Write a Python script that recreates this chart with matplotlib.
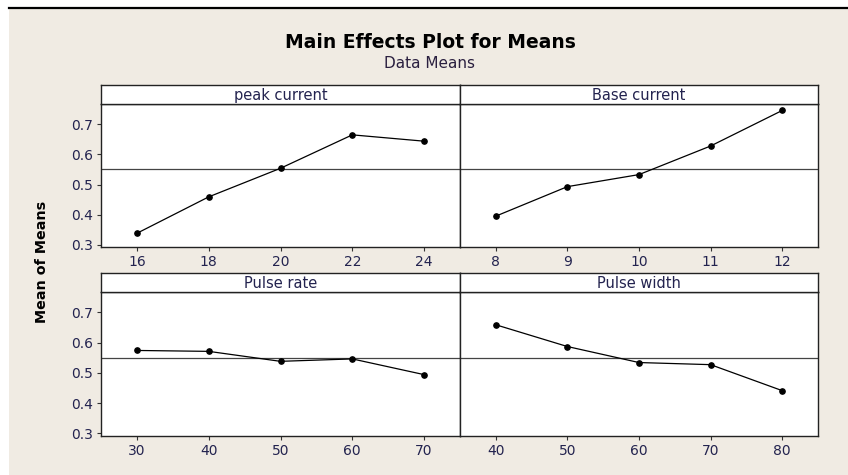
import matplotlib
matplotlib.use("Agg")
import matplotlib.pyplot as plt
from matplotlib.patches import Rectangle
from matplotlib.lines import Line2D

# factor levels and the mean of means at each level
peak_current = [16, 18, 20, 22, 24]
peak_means = [0.338, 0.459, 0.554, 0.665, 0.644]

base_current = [8, 9, 10, 11, 12]
base_means = [0.395, 0.493, 0.533, 0.628, 0.746]

pulse_rate = [30, 40, 50, 60, 70]
rate_means = [0.574, 0.571, 0.538, 0.546, 0.494]

pulse_width = [40, 50, 60, 70, 80]
width_means = [0.659, 0.587, 0.534, 0.527, 0.441]

grand_mean = 0.55
y_ticks = [0.3, 0.4, 0.5, 0.6, 0.7]

W, H = 848, 475
bg = "#f0ebe3"
txt = "#23234f"

fig = plt.figure(figsize=(W / 100, H / 100), dpi=100)
fig.patch.set_facecolor("white")

# beige page and the dark rule along the top
fig.add_artist(Rectangle((9 / W, 0), 1 - 9 / W, 1 - 9 / H, transform=fig.transFigure,
                         facecolor=bg, edgecolor="none", zorder=0))
fig.add_artist(Line2D([9 / W, 1], [1 - 7.5 / H, 1 - 7.5 / H], transform=fig.transFigure,
                      color="black", lw=1.6))


def px_box(x0, y0, x1, y1):
    return [x0 / W, 1 - y1 / H, (x1 - x0) / W, (y1 - y0) / H]


panels = [
    ("peak current", peak_current, peak_means, (101, 460), (85, 104, 247)),
    ("Base current", base_current, base_means, (460, 818), (85, 104, 247)),
    ("Pulse rate", pulse_rate, rate_means, (101, 460), (273, 292, 435.5)),
    ("Pulse width", pulse_width, width_means, (460, 818), (273, 292, 435.5)),
]

for name, levels, means, (x0, x1), (s0, s1, b) in panels:
    ax = fig.add_axes(px_box(x0, s1, x1, b))
    ax.set_facecolor("white")
    step = levels[1] - levels[0]
    ax.set_xlim(levels[0] - step / 2, levels[-1] + step / 2)
    ax.set_ylim(0.2925, 0.7675)
    ax.axhline(grand_mean, color="#444444", lw=0.9, zorder=1)
    ax.plot(levels, means, color="black", lw=0.9, marker="o", ms=3.8, zorder=2)
    ax.set_xticks(levels)
    ax.tick_params(axis="x", direction="out", length=3, width=0.8, colors="#333333",
                   labelcolor=txt, labelsize=10, pad=3)
    if x0 < 200:
        ax.set_yticks(y_ticks)
        ax.set_yticklabels(["%.1f" % v for v in y_ticks])
        ax.tick_params(axis="y", direction="out", length=3, width=0.8, colors="#333333",
                       labelcolor=txt, labelsize=10, pad=3)
    else:
        ax.set_yticks([])
    for sp in ax.spines.values():
        sp.set_color("#222222")
        sp.set_linewidth(1.0)

    strip = fig.add_axes(px_box(x0, s0, x1, s1))
    strip.set_facecolor("white")
    strip.set_xticks([])
    strip.set_yticks([])
    for sp in strip.spines.values():
        sp.set_color("#222222")
        sp.set_linewidth(1.0)
    strip.text(0.5, 0.45, name, ha="center", va="center", fontsize=10.5, color=txt,
               transform=strip.transAxes)

fig.text(430 / W, 1 - 42 / H, "Main Effects Plot for Means", ha="center", va="center",
         fontsize=13.5, fontweight="bold", color="black")
fig.text(430 / W, 1 - 63 / H, "Data Means", ha="center", va="center", fontsize=11,
         color="#2a1f3f")
fig.text(42 / W, 1 - 262 / H, "Mean of Means", ha="center", va="center", rotation=90,
         fontsize=10.3, fontweight="bold", color="black")

fig.savefig("out.png", dpi=100, facecolor=fig.get_facecolor())
